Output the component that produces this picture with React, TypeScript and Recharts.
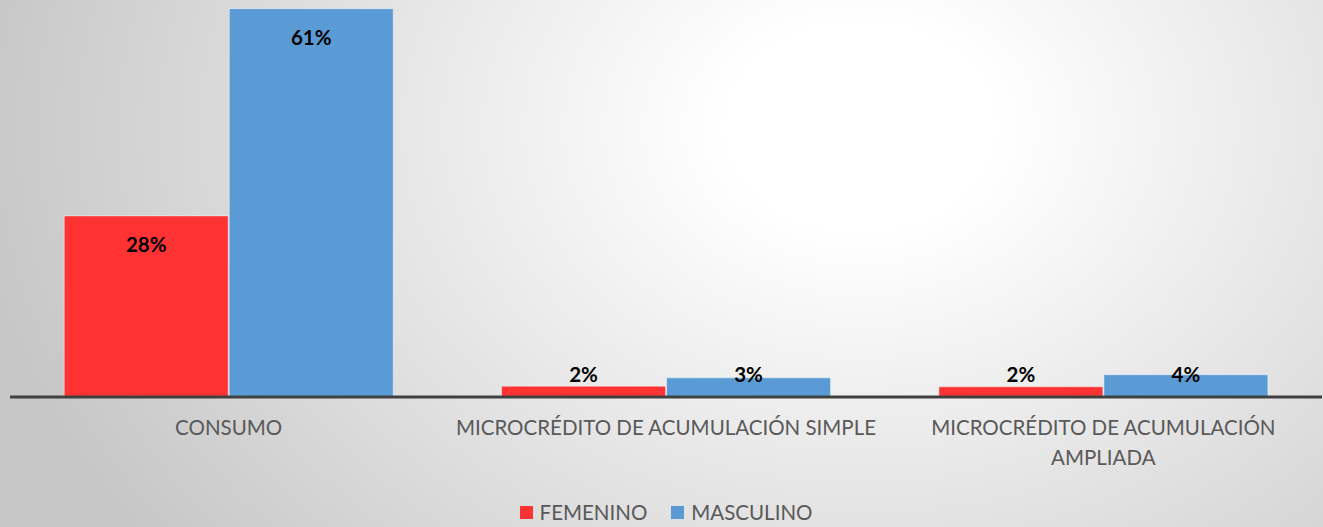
import React from 'react';
import { BarChart, Bar, XAxis, YAxis, Legend, LabelList } from 'recharts';

const categories = ['CONSUMO', 'MICROCRÉDITO DE ACUMULACIÓN SIMPLE', 'MICROCRÉDITO DE ACUMULACIÓN AMPLIADA'];
const femenino = [28.4, 1.7, 1.6];
const masculino = [60.9, 3.0, 3.5];

const FONT = 'Lato, "Open Sans", sans-serif';
const RED = '#FF3333';
const BLUE = '#5B9BD5';

const data = categories.map((name, i) => ({ name, femenino: femenino[i], masculino: masculino[i] }));

// measure with a canvas so long category names break like in the original
let ctx: CanvasRenderingContext2D | null = null;
const measure = (s: string, font: string) => {
  if (!ctx) ctx = document.createElement('canvas').getContext('2d');
  if (!ctx) return s.length * 11;
  ctx.font = font;
  return ctx.measureText(s).width;
};

const wrap = (text: string, maxWidth: number, font: string) => {
  const words = text.split(' ');
  const lines: string[] = [];
  let cur = '';
  words.forEach(w => {
    const next = cur ? cur + ' ' + w : w;
    if (cur && measure(next, font) > maxWidth) {
      lines.push(cur);
      cur = w;
    } else {
      cur = next;
    }
  });
  if (cur) lines.push(cur);
  return lines;
};

const CategoryTick = (props: any) => {
  const { x, y, payload } = props;
  const font = '20.5px Lato';
  const lines = wrap(payload.value, 430, font);
  return (
    <text
      x={x}
      y={y}
      textAnchor="middle"
      style={{ fontFamily: FONT, fontSize: 20.5, fill: '#595959' }}
    >
      {lines.map((l, i) => (
        <tspan key={i} x={x} dy={30}>{l}</tspan>
      ))}
    </text>
  );
};

// inside-end label, kept above the base when the bar is too short
const ValueLabel = (props: any) => {
  const { x, y, width, height, value } = props;
  const cy = Math.min(y + 28, y + height - 23);
  return (
    <text
      x={x + width / 2}
      y={cy}
      textAnchor="middle"
      dominantBaseline="central"
      style={{ fontFamily: FONT, fontSize: 20.5, fontWeight: 700, fill: '#000' }}
    >
      {Math.round(value)}%
    </text>
  );
};

const LegendContent = () => (
  <div style={{ display: 'flex', justifyContent: 'center', alignItems: 'center', height: 30, fontFamily: FONT, fontSize: 20.5, color: '#595959' }}>
    {[{ label: 'FEMENINO', color: RED }, { label: 'MASCULINO', color: BLUE }].map(item => (
      <div key={item.label} style={{ display: 'flex', alignItems: 'center', margin: '0 12px' }}>
        <span style={{ display: 'inline-block', width: 13, height: 13, background: item.color, marginRight: 7 }} />
        <span>{item.label}</span>
      </div>
    ))}
  </div>
);

const App: React.FC = () => {
  return (
    <div
      style={{
        position: 'absolute',
        left: 0,
        top: 0,
        width: 1323,
        height: 527,
        background: 'radial-gradient(ellipse 900px 700px at 65% 24%, #ffffff 0%, #ffffff 15%, #e4e4e4 55%, #c6c6c6 100%)',
      }}
    >
      <BarChart
        width={1323}
        height={527}
        data={data}
        margin={{ top: 8, right: 1, left: 10, bottom: 0 }}
        barCategoryGap="12.4%"
        barGap={1}
      >
        <XAxis
          dataKey="name"
          interval={0}
          tickLine={false}
          axisLine={{ stroke: '#404040', strokeWidth: 3 }}
          height={100}
          tick={<CategoryTick />}
        />
        <YAxis hide domain={[0, 61]} />
        <Legend verticalAlign="bottom" height={30} content={<LegendContent />} />
        <Bar dataKey="femenino" fill={RED} stroke="rgba(255,255,255,0.45)" strokeWidth={1} isAnimationActive={false}>
          <LabelList dataKey="femenino" content={<ValueLabel />} />
        </Bar>
        <Bar dataKey="masculino" fill={BLUE} stroke="rgba(255,255,255,0.45)" strokeWidth={1} isAnimationActive={false}>
          <LabelList dataKey="masculino" content={<ValueLabel />} />
        </Bar>
      </BarChart>
    </div>
  );
};

export default App;
